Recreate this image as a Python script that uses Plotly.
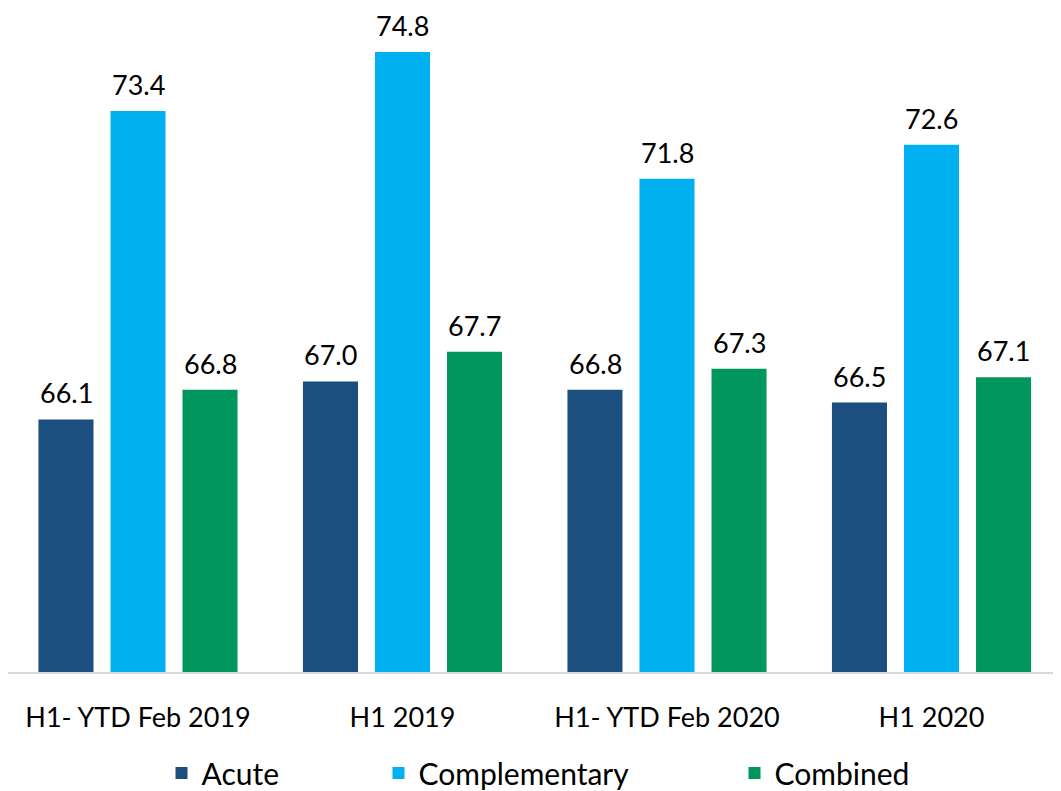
import plotly.graph_objects as go

categories = ["H1- YTD Feb 2019", "H1 2019", "H1- YTD Feb 2020", "H1 2020"]
acute = [66.1, 67.0, 66.8, 66.5]
complementary = [73.4, 74.8, 71.8, 72.6]
combined = [66.8, 67.7, 67.3, 67.1]

series = [("Acute", acute, "#1C4F80"),
          ("Complementary", complementary, "#00B0F0"),
          ("Combined", combined, "#00965E")]

FONT = "Lato, Carlito, Calibri, sans-serif"
W, H = 1053, 783  # page has an 8px body margin
PLOT_H = 664
fig = go.Figure()
legends = ["legend", "legend2", "legend3"]
for i, (name, vals, color) in enumerate(series):
    fig.add_trace(go.Bar(x=categories, y=vals, name=name, marker_color=color,
                         marker_line_width=0, legend=legends[i]))

annotations = []
for i, (name, vals, color) in enumerate(series):
    for c, v in zip(categories, vals):
        annotations.append(dict(x=c, y=v, text=f"{v:.1f}", showarrow=False,
                                xshift=(i - 1) * 72, yshift=9, yanchor="bottom",
                                borderpad=0,
                                font=dict(family=FONT, size=27, color="#000000")))

leg_common = dict(orientation="h", yanchor="middle", xanchor="left",
                  y=-0.152,
                  font=dict(family=FONT, size=30, color="#000000"),
                  bgcolor="rgba(0,0,0,0)")
fig.update_layout(
    width=W, height=H,
    margin=dict(l=0, r=0, t=0, b=H - PLOT_H, pad=0, autoexpand=False),
    plot_bgcolor="white", paper_bgcolor="white",
    barmode="group", bargap=0.183, bargroupgap=0.236,
    showlegend=True,
    legend=dict(leg_common, x=153.5 / W),
    legend2=dict(leg_common, x=370.5 / W),
    legend3=dict(leg_common, x=726.5 / W),
    annotations=annotations,
    xaxis=dict(showline=True, linecolor="#D9D9D9", linewidth=2, ticks="",
               range=[-0.4915, 3.4896],
               tickfont=dict(family=FONT, size=27, color="#000000"),
               ticklabelstandoff=21),
    yaxis=dict(range=[60.12, 75.84], visible=False, showgrid=False),
)
fig.write_html("out.html")
